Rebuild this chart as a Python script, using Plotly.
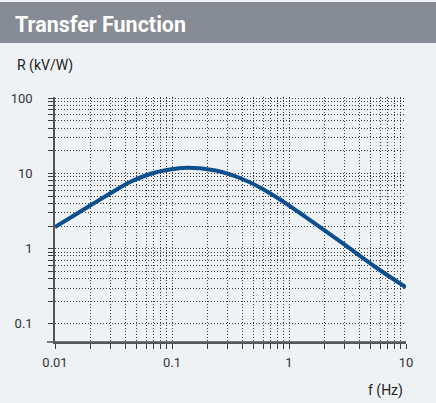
import plotly.graph_objects as go

# Data
freq_hz = [0.01, 0.02, 0.0295, 0.0438, 0.0649, 0.0962, 0.134, 0.173, 0.257, 0.381,
           0.565, 0.837, 1.24, 1.84, 3.01, 5.43, 10]
resp_kv_w = [1.94, 3.75, 5.42, 7.71, 9.85, 11.3, 11.94, 11.7, 10.6, 8.71,
             6.51, 4.51, 2.98, 1.94, 1.12, 0.575, 0.306]

x_major = [0.01, 0.1, 1, 10]
x_labels = ["0.01", "0.1", "1", "10"]
y_major = [0.1, 1, 10, 100]
y_labels = ["0.1", "1", "10", "100"]


def log_ticks(majors, labels):
    vals, texts = [], []
    for i, m in enumerate(majors):
        vals.append(m)
        texts.append(labels[i])
        if i < len(majors) - 1:
            for k in range(2, 10):
                vals.append(m * k)
                texts.append("")
    return vals, texts


xv, xt = log_ticks(x_major, x_labels)
yv, yt = log_ticks(y_major, y_labels)

BG = "#eef2f4"
GRID = "#3c3c3c"
AX = "#555555"
TXT = "#333333"
DOTS = "1px,2px"

fig = go.Figure()
fig.add_trace(go.Scatter(
    x=freq_hz, y=resp_kv_w, mode="lines",
    line=dict(color="#0b4f8e", width=4, shape="spline", smoothing=1.0),
    hoverinfo="skip", showlegend=False,
))

fig.update_layout(
    width=436, height=403,
    margin=dict(l=55, r=30, t=97, b=61),
    paper_bgcolor=BG, plot_bgcolor=BG,
    font=dict(family="Roboto", size=13, color=TXT),
    title=dict(text="<b>Transfer Function</b>", xref="container", yref="container",
               x=15/436, y=1 - 24/403, xanchor="left", yanchor="middle",
               font=dict(family="Roboto", size=21.5, color="white")),
    shapes=[
        dict(type="rect", xref="paper", yref="paper",
             x0=-55/351, x1=381/351, y0=(360-61)/245, y1=(401-61)/245,
             fillcolor="#868b94", line=dict(width=0), layer="below"),
        dict(type="line", xref="paper", yref="paper",
             x0=-8/351, x1=1, y0=0, y1=0, line=dict(color=AX, width=1.5)),
    ],
    annotations=[
        dict(text="R (kV/W)", xref="paper", yref="paper", x=-40/351, y=(338-61)/245,
             xanchor="left", yanchor="middle", showarrow=False,
             font=dict(family="Roboto", size=14, color="#222222")),
        dict(text="f (Hz)", xref="paper", yref="paper", x=350/351, y=(13-61)/245,
             xanchor="right", yanchor="middle", showarrow=False,
             font=dict(family="Roboto", size=14, color="#222222")),
    ],
)

fig.update_xaxes(
    type="log", range=[-2, 1],
    tickmode="array", tickvals=xv, ticktext=xt,
    showgrid=True, gridcolor=GRID, griddash=DOTS, gridwidth=1,
    ticks="outside", ticklen=5, tickcolor=GRID, tickwidth=1,
    showline=True, linecolor=AX, linewidth=1.5,
    zeroline=False, tickfont=dict(color=TXT, size=13),
    ticklabelstandoff=3,
)
fig.update_yaxes(
    type="log", range=[-1.241, 2.017],
    tickmode="array", tickvals=yv, ticktext=yt,
    showgrid=True, gridcolor=GRID, griddash=DOTS, gridwidth=1,
    ticks="outside", ticklen=5, tickcolor=GRID, tickwidth=1,
    showline=True, linecolor=AX, linewidth=1.5,
    zeroline=False, tickfont=dict(color=TXT, size=13),
    ticklabelstandoff=13,
)

fig.write_html(
    "out.html",
    config={"displayModeBar": False},
    post_script="document.body.style.margin='0';document.body.style.overflow='hidden';",
)
